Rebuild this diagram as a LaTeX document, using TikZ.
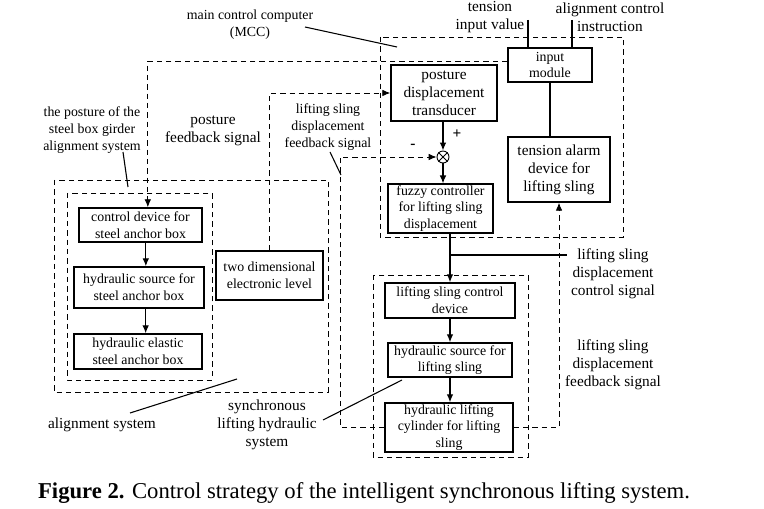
\documentclass[tikz,border=0pt]{standalone}
\usepackage{fontspec}
\setmainfont{Liberation Serif}
\usepackage{tikz}
\usetikzlibrary{arrows.meta}

\newcommand{\smallfnt}{\fontsize{10.4}{12.5}\selectfont}
\newcommand{\largefnt}{\fontsize{11.5}{13.5}\selectfont}

\begin{document}
\begin{tikzpicture}[x=0.75pt,y=-0.75pt,
    blockbox/.style={draw, line width=1.1pt, align=center, inner sep=1pt, font=\smallfnt},
    groupbox/.style={draw, dash pattern=on 4pt off 3pt, line width=0.7pt},
    fbline/.style={dash pattern=on 4pt off 3pt, line width=0.7pt},
    flow/.style={-{Latex[length=6pt,width=5pt]}, line width=0.9pt},
    pointer/.style={line width=0.8pt},
    lbl/.style={align=center, inner sep=0pt, font=\largefnt},
    slbl/.style={align=center, inner sep=0pt, font=\smallfnt}]
  \useasboundingbox (0,0) rectangle (764,509);

  %% Dashed group frames
  \draw[groupbox] (380,37) rectangle (623,237);   % MCC
  \draw[groupbox] (54,180) rectangle (328,392);   % alignment system
  \draw[groupbox] (67,193) rectangle (212,380);
  \draw[groupbox] (373,275) rectangle (528,457);  % lifting hydraulic

  %% Blocks of the alignment system
  \node[blockbox, minimum width=92pt, minimum height=25.5pt] (ctrl) at (140.5,225)
    {control device for\\steel anchor box};
  \node[blockbox, minimum width=97.5pt, minimum height=30.75pt] (hsrc) at (139,287.5)
    {hydraulic source for\\steel anchor box};
  \node[blockbox, minimum width=96pt, minimum height=26.25pt] (elastic) at (138,351.5)
    {hydraulic elastic\\steel anchor box};
  \node[blockbox, minimum width=80pt, minimum height=36.75pt] (level) at (269.5,275.5)
    {two dimensional\\electronic level};

  %% Blocks of the MCC
  \node[blockbox, font=\largefnt, minimum width=79.5pt, minimum height=42pt] (trans) at (444,93)
    {posture\\displacement\\transducer};
  \node[draw, circle, line width=0.7pt, minimum size=9pt, inner sep=0pt] (sum) at (443,157) {};
  \draw[line width=0.6pt] (sum.45) -- (sum.225) (sum.135) -- (sum.315);
  \node[blockbox, minimum width=78.75pt, minimum height=33.75pt] (fuzzy) at (440.5,208.5)
    {fuzzy controller\\for lifting sling\\displacement};
  \node[blockbox, minimum width=63pt, minimum height=25.5pt] (input) at (550,65)
    {input\\module};
  \node[blockbox, font=\largefnt, minimum width=76.5pt, minimum height=48.75pt] (alarm) at (559,169.5)
    {tension alarm\\device for\\lifting sling};

  %% Blocks of the lifting hydraulic system
  \node[blockbox, minimum width=97.5pt, minimum height=26.25pt] (lsctrl) at (450,300.5)
    {lifting sling control\\device};
  \node[blockbox, minimum width=93pt, minimum height=25.5pt] (lshsrc) at (450,360)
    {hydraulic source for\\lifting sling};
  \node[blockbox, minimum width=96pt, minimum height=36.75pt] (cyl) at (449,427.5)
    {hydraulic lifting\\cylinder for lifting\\sling};

  %% Solid signal flow
  \draw[flow] ([xshift=4pt]ctrl.south) -- ([xshift=4pt]ctrl.south |- hsrc.north);
  \draw[flow] ([xshift=5pt]hsrc.south) -- ([xshift=5pt]hsrc.south |- elastic.north);
  \draw[flow] (trans.south -| sum.north) -- (sum.north);
  \draw[flow] (sum.south) -- (sum.south |- fuzzy.north);
  \draw[flow] (fuzzy.south -| lsctrl.north) -- (lsctrl.north);
  \draw[flow] (lsctrl.south) -- (lsctrl.south |- lshsrc.north);
  \draw[flow] (lshsrc.south) -- (lshsrc.south |- cyl.north);
  \draw[line width=0.8pt] (input.south) -- (input.south |- alarm.north);
  \coordinate (ctlsig) at (567,255);
  \draw[line width=0.8pt] (lsctrl.north |- ctlsig) -- (ctlsig);
  \coordinate (tensin) at (528,20);
  \coordinate (alignin) at (572,20);
  \draw[line width=0.8pt] (tensin) -- (tensin |- input.north);
  \draw[line width=0.8pt] (alignin) -- (alignin |- input.north);

  %% Dashed feedback paths
  \draw[fbline, flow, line width=0.7pt] ([yshift=3pt]input.west) -| ([xshift=5.5pt]ctrl.north);
  \draw[fbline, flow, line width=0.7pt] (level.north) |- (trans.west);
  \draw[fbline, flow, line width=0.7pt] (cyl.west) -- ++(-44,0) |- (sum.west);
  \draw[fbline, flow, line width=0.7pt] (cyl.east) -| (alarm.south);
  \node[font=\largefnt\bfseries] (plus) at (457,134) {+};
  \node[font=\largefnt\bfseries] (minus) at (413,146) {-};

  %% Labels and their pointers
  \node[slbl] (mcclbl) at (250,25) {main control computer\\(MCC)};
  \draw[pointer] (305,27) -- (397,47);
  \node[lbl] (tenslbl) at (490,17) {tension\\input value};
  \node[lbl] (alignlbl) at (610,17) {alignment control\\instruction};
  \node[slbl] (girderlbl) at (92,130) {the posture of the\\steel box girder\\alignment system};
  \draw[pointer] (123,152) -- (128,187);
  \node[lbl] (postlbl) at (213,131) {posture\\feedback signal};
  \node[slbl] (lsfblbl) at (328,127) {lifting sling\\displacement\\feedback signal};
  \draw[pointer] (330,152) -- (341,175);
  \node[lbl] (ctlsiglbl) at (613,274) {lifting sling\\displacement\\control signal};
  \node[lbl] (rfblbl) at (613,365) {lifting sling\\displacement\\feedback signal};
  \node[lbl] (alignsys) at (102,425) {alignment system};
  \draw[pointer] (130,413) -- (237,379);
  \node[lbl] (synclbl) at (267,425) {synchronous\\lifting hydraulic\\system};
  \draw[pointer] (323,420) -- (402,380);

  %% Caption
  \node[font=\fontsize{17}{20}\selectfont, inner sep=0pt] (caption) at (364,493)
    {\textbf{Figure 2.} Control strategy of the intelligent synchronous lifting system.};
\end{tikzpicture}
\end{document}
